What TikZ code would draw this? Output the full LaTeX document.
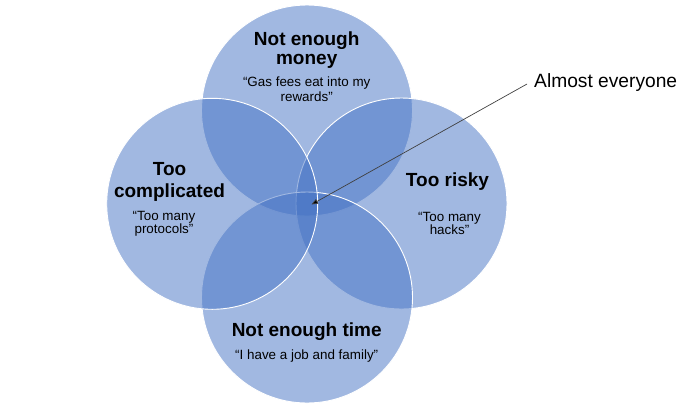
\documentclass[tikz,border=0pt]{standalone}
\usepackage{fontspec}
\setmainfont{Liberation Sans}
\usetikzlibrary{arrows.meta}
\definecolor{acc}{RGB}{68,114,196}
\definecolor{arrowgray}{RGB}{64,64,64}
\tikzset{
  venn/.style={fill=acc, fill opacity=0.5, draw=white, line width=0.9pt},
  ttl/.style={anchor=base, inner sep=0pt, font=\fontsize{19}{22}\selectfont\bfseries},
  quote/.style={anchor=base, inner sep=0pt, font=\fontsize{13.4}{14}\selectfont},
  callout/.style={anchor=base west, inner sep=0pt, font=\fontsize{19.2}{22}\selectfont},
  pointer/.style={draw=arrowgray, line width=0.7pt, -{Triangle[length=6.5pt,width=5pt,fill=black]}}
}
\begin{document}
\begin{tikzpicture}[x=1pt,y=-1pt]
\useasboundingbox (0,0) rectangle (700,408);
% circles
\path[venn] (307,110.5) circle[radius=105.5];
\path[venn] (401.5,203.5) circle[radius=105.5];
\path[venn] (307,297.5) circle[radius=105.5];
\path[venn] (212.2,203.8) circle[radius=105.5];
% top
\node[ttl] (money1) at (306.7,45) {Not enough};
\node[ttl] (money2) at (306.7,64.5) {money};
\node[quote] (gas1) at (306.7,86.8) {“Gas fees eat into my};
\node[quote] (gas2) at (306.7,101) {rewards”};
% left
\node[ttl] (comp1) at (169.5,175.3) {Too};
\node[ttl] (comp2) at (169.5,197.5) {complicated};
\node[quote] (prot1) at (164,220.7) {“Too many};
\node[quote] (prot2) at (164,233.5) {protocols”};
% right
\node[ttl] (risky) at (447.5,186.8) {Too risky};
\node[quote] (hacks1) at (449.5,221.5) {“Too many};
\node[quote] (hacks2) at (449.5,234) {hacks”};
% bottom
\node[ttl] (time) at (306.7,336.8) {Not enough time};
\node[quote] (job) at (306.7,359) {“I have a job and family”};
% callout
\node[callout] (almost) at (534,87.3) {Almost everyone};
\coordinate (arrowstart) at (527,84);
\coordinate (center) at (311.5,204.5);
\draw[pointer] (arrowstart) -- (center);
\end{tikzpicture}
\end{document}
